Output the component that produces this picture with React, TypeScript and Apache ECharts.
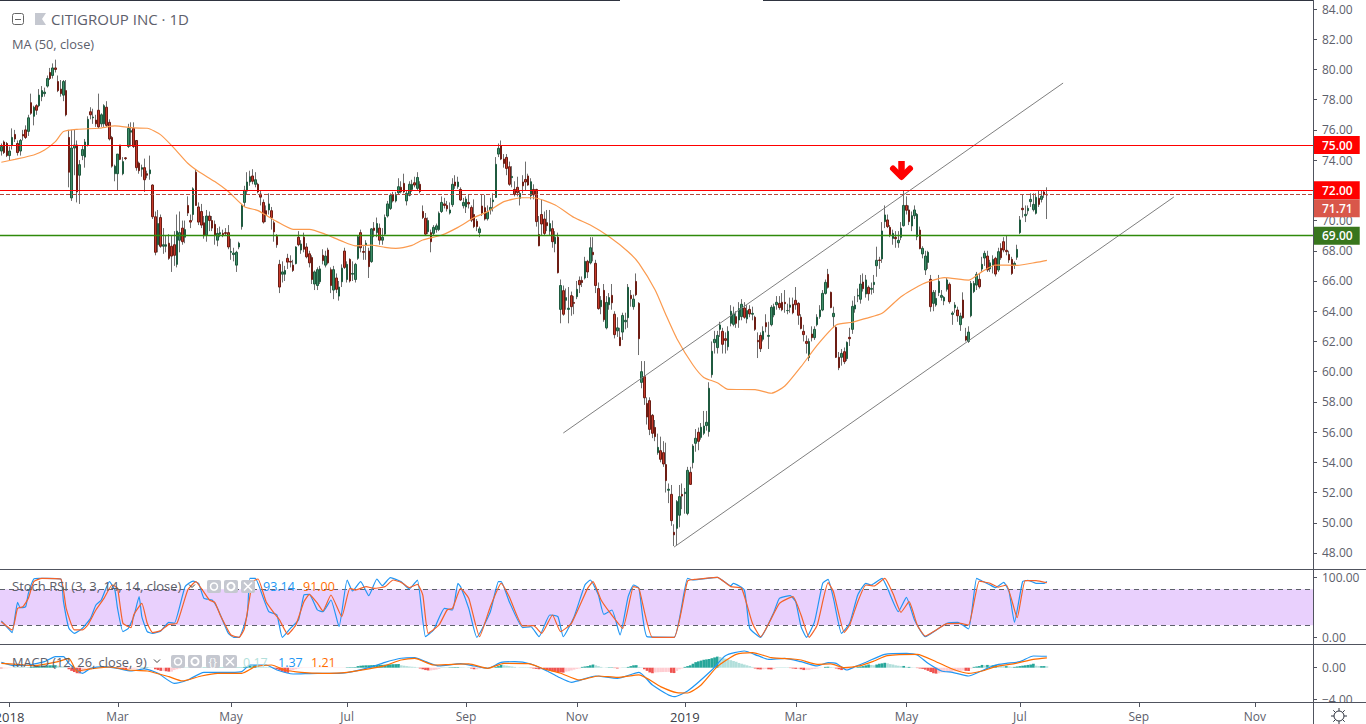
import { useRef, useEffect } from "react";
import * as echarts from "echarts/core";
import { GridComponent, GraphicComponent, MarkLineComponent, MarkAreaComponent } from "echarts/components";
import { CandlestickChart, LineChart, BarChart } from "echarts/charts";
import { SVGRenderer } from "echarts/renderers";

echarts.use([GridComponent, GraphicComponent, MarkLineComponent, MarkAreaComponent, CandlestickChart, LineChart, BarChart, SVGRenderer]);

const FONT = "'Open Sans', sans-serif";
const BAR_SLOTS = 486;

// open, close, low, high
const candles = [
  [74.6,74.9,74.3,75.1],[75.2,74.5,74.4,75.3],[75.1,74.3,74.2,75.2],[74.3,74.6,74.0,74.9],[75.0,75.5,74.7,76.1],
  [75.7,75.4,75.2,76.0],[75.1,74.5,74.3,75.3],[74.6,75.3,74.3,75.4],[75.7,75.6,75.3,76.0],[76.0,75.5,75.4,76.3],
  [75.9,76.8,75.6,77.0],[77.8,77.1,77.0,78.4],[76.9,77.5,76.3,77.6],[77.6,77.3,77.0,77.7],[77.6,78.3,77.5,78.7],
  [78.2,78.6,77.9,78.9],[78.4,78.5,78.2,78.8],[78.9,79.4,78.8,79.6],[79.8,79.4,79.3,80.1],[79.6,80.1,79.4,80.4],
  [80.1,80.0,79.8,80.65],[79.2,78.6,78.5,79.6],[78.7,78.4,78.2,79.3],[78.3,79.2,77.9,79.3],[78.6,77.0,76.9,79.3],
  [75.5,73.2,72.2,76.0],[71.5,74.8,71.3,76.0],[74.8,75.0,73.0,76.0],[75.0,71.9,71.2,75.3],[73.0,73.7,71.1,74.0],
  [74.3,74.7,74.0,75.0],[74.2,75.2,73.5,75.4],[75.0,76.7,74.9,76.9],[77.2,77.0,76.7,77.5],[76.8,76.85,76.4,77.4],
  [76.65,76.4,76.2,77.0],[77.3,76.2,76.1,78.4],[76.4,77.0,76.2,77.1],[76.4,77.6,76.2,77.7],[77.5,76.3,76.2,77.9],
  [76.5,75.4,75.3,76.7],[75.5,73.6,73.5,75.6],[73.1,73.6,72.6,73.7],[73.1,74.4,72.0,74.4],[75.0,74.05,74.0,75.0],
  [73.1,73.9,73.0,74.2],[74.15,74.1,74.0,74.2],[74.9,76.1,74.8,76.4],[75.85,75.95,74.9,76.5],[76.1,74.9,74.8,76.5],
  [75.3,73.5,73.3,75.3],[73.8,73.3,73.1,73.9],[73.4,73.5,72.9,73.7],[73.5,72.7,71.9,74.1],[73.1,73.0,72.8,73.3],
  [73.1,73.35,72.7,74.3],[72.35,70.25,70.1,72.4],[70.25,67.9,67.7,70.6],[68.4,69.8,67.9,70.7],[70.2,68.3,68.2,70.4],
  [68.3,68.4,67.8,69.5],[68.3,68.4,67.9,69.0],[68.5,67.5,67.4,69.1],[68.3,67.65,66.6,69.0],[68.4,67.7,67.0,69.3],
  [67.1,69.3,66.9,70.4],[68.7,69.2,67.9,70.6],[69.5,68.6,68.4,70.0],[68.9,69.4,68.5,70.0],[71.0,70.5,70.3,71.6],
  [70.0,69.9,69.5,70.4],[70.4,72.1,70.0,72.2],[73.2,71.0,71.0,73.4],[70.9,69.9,69.7,71.2],[70.6,69.7,69.5,71.1],
  [69.85,69.0,68.8,70.3],[69.05,70.3,68.6,70.7],[70.3,70.0,69.3,70.6],[70.0,69.5,69.3,70.3],[69.75,69.05,68.4,70.0],
  [68.7,69.15,68.3,69.5],[69.1,69.2,68.9,69.6],[69.15,69.05,68.9,69.4],[69.2,69.15,69.0,69.5],[69.2,68.25,68.1,69.7],
  [67.9,67.95,67.4,68.8],[67.75,67.85,67.3,68.2],[67.05,67.9,66.6,68.0],[68.25,68.5,68.1,68.6],[69.6,71.0,69.4,71.1],
  [71.2,72.0,70.9,72.3],[71.95,72.55,71.7,73.2],[72.55,72.9,72.3,73.3],[72.95,72.6,72.4,73.4],[72.4,72.7,72.2,73.2],
  [72.4,71.9,71.8,72.5],[71.75,71.55,71.0,72.0],[71.2,69.9,69.8,71.4],[70.65,70.4,69.9,71.0],[70.7,71.1,70.4,71.8],
  [70.65,70.2,69.4,70.9],[69.85,69.25,68.6,70.0],[68.95,68.4,68.2,69.1],[67.1,65.6,65.2,67.4],[66.45,66.6,65.9,67.3],
  [66.45,66.7,66.0,67.0],[67.5,67.25,66.8,67.8],[67.3,67.25,66.9,67.7],[67.05,66.7,66.6,67.4],[67.15,68.25,67.1,68.3],
  [68.9,68.4,68.3,69.3],[68.05,68.45,67.8,68.7],[68.9,68.1,67.9,69.2],[68.25,67.6,67.5,68.5],[67.8,67.2,66.9,68.0],
  [67.55,66.1,65.8,67.7],[65.8,66.6,65.4,66.7],[65.7,66.75,65.4,66.9],[65.95,66.8,65.8,67.0],[67.7,67.35,67.1,68.1],
  [67.05,67.65,66.9,68.0],[68.05,67.2,67.1,68.2],[66.75,65.7,65.2,66.9],[65.4,66.75,64.8,67.0],[66.2,65.45,65.2,66.5],
  [65.0,65.6,64.7,66.0],[65.95,66.85,65.6,67.1],[67.98,66.9,66.8,68.2],[66.1,67.1,65.9,67.3],[67.43,66.0,65.9,67.5],
  [66.45,66.5,66.0,67.3],[66.1,67.1,65.9,67.2],[67.5,68.93,67.4,69.0],[69.2,68.2,67.9,69.4],[67.95,67.9,67.4,68.3],
  [68.35,68.5,67.4,68.7],[67.98,66.95,66.2,68.2],[67.28,69.45,67.2,69.5],[69.5,69.35,68.9,69.9],[69.2,69.8,68.9,70.2],
  [69.5,68.7,68.4,69.8],[68.7,68.9,68.4,69.5],[69.1,70.2,69.0,70.4],[70.3,71.1,70.2,71.3],[70.8,71.67,70.7,71.8],
  [71.7,71.3,71.2,71.9],[71.3,71.67,71.2,71.9],[71.84,72.24,71.7,72.8],[72.2,71.9,71.8,72.6],[72.46,71.9,71.8,73.1],
  [71.3,71.8,71.0,72.0],[71.67,72.4,71.6,72.6],[72.06,72.4,71.9,72.7],[72.5,72.35,72.2,72.9],[72.13,72.85,72.0,73.2],
  [72.4,71.93,71.8,72.6],[70.6,70.2,70.1,71.0],[70.15,69.1,69.0,70.5],[69.26,70.0,69.1,70.2],[69.2,68.6,67.9,69.4],
  [69.15,69.55,69.0,69.7],[69.4,69.65,69.2,69.8],[69.4,70.48,69.3,70.6],[70.6,71.2,70.5,71.6],[71.1,71.0,70.8,71.5],
  [71.0,70.78,70.6,71.3],[70.5,70.7,70.4,71.2],[71.05,72.4,70.9,72.8],[72.55,72.3,72.1,73.0],[72.24,72.55,72.1,72.9],
  [72.06,71.36,71.3,72.2],[70.98,71.2,70.8,71.5],[70.9,71.42,70.5,71.6],[71.2,71.1,70.8,71.7],[70.87,70.03,69.9,71.0],
  [70.4,69.6,69.5,71.4],[69.95,69.6,69.3,70.1],[69.2,69.45,68.9,69.6],[70.96,70.5,70.3,71.7],[70.85,70.1,70.0,71.7],
  [70.12,70.57,70.0,71.0],[70.7,70.87,70.4,71.5],[71.25,71.36,70.6,71.8],[71.53,73.72,71.5,74.2],[74.4,74.78,74.2,75.1],
  [74.95,74.07,74.0,75.3],[74.07,73.78,73.5,74.4],[74.18,73.45,73.0,74.4],[73.56,72.4,72.3,73.9],[72.84,72.92,72.2,73.6],
  [72.06,71.73,71.6,72.6],[72.2,71.85,71.6,72.9],[71.47,71.8,71.0,72.0],[72.55,72.3,71.8,73.0],[72.72,72.55,72.0,73.9],
  [72.95,72.35,72.3,73.1],[71.64,72.57,71.4,72.8],[72.06,71.7,71.4,72.4],[72.06,69.93,69.6,72.1],[69.08,68.33,68.3,70.3],
  [70.4,69.77,69.0,71.4],[70.1,69.15,69.0,70.6],[69.86,69.66,69.3,70.7],[69.3,69.8,69.0,70.7],[69.46,68.6,68.2,70.0],
  [68.47,68.9,67.9,69.3],[68.9,66.55,66.5,69.2],[64.12,65.7,63.2,66.1],[65.36,63.8,63.7,65.7],[64.72,64.9,64.1,65.5],
  [64.12,64.2,63.2,65.6],[65.03,64.3,63.7,65.3],[64.58,64.52,63.8,65.0],[64.96,65.45,64.8,66.0],[66.04,65.75,65.2,66.3],
  [66.04,65.9,65.6,66.3],[66.2,67.3,66.1,67.6],[67.3,66.6,66.2,67.4],[67.2,68.2,67.1,68.9],[67.9,67.74,67.3,68.9],
  [67.17,65.7,65.2,67.4],[65.5,64.17,64.1,65.9],[64.3,64.72,63.8,65.0],[65.38,63.44,63.3,65.8],[62.9,64.58,62.8,65.0],
  [64.43,64.9,64.1,65.2],[65.05,64.56,64.1,65.8],[63.8,62.45,62.2,64.0],[62.7,62.9,62.3,63.6],[62.27,61.72,61.7,62.9],
  [62.62,63.72,62.1,63.9],[63.3,63.4,62.8,63.9],[63.57,65.58,62.9,65.8],[65.05,64.83,64.3,65.4],[64.3,64.8,64.1,65.1],
  [65.97,65.09,65.0,66.5],[64.52,62.18,61.1,64.6],[59.29,60.0,58.9,60.7],[59.67,58.27,57.8,60.7],[57.9,57.0,56.5,58.3],
  [58.08,56.18,55.8,58.3],[57.11,55.92,55.6,57.2],[56.31,55.7,55.4,56.8],[54.64,54.99,54.5,55.9],[54.77,54.2,54.0,55.7],
  [54.64,53.89,53.7,55.4],[53.85,52.79,52.0,55.3],[52.15,52.22,51.3,52.6],[51.88,50.14,49.8,52.5],[49.37,49.2,48.46,49.9],
  [49.63,51.4,48.5,51.5],[50.5,51.73,49.7,52.5],[51.88,51.77,50.9,52.6],[51.93,52.02,50.6,52.3],[50.62,53.47,50.5,53.7],
  [53.34,52.54,52.5,53.7],[53.98,55.08,53.6,55.2],[55.26,55.59,54.7,56.2],[55.99,55.39,54.8,56.3],[55.65,56.32,55.5,56.6],
  [55.92,56.4,55.8,57.4],[56.43,56.65,56.1,57.4],[56.03,58.9,55.7,59.3],[59.8,61.35,59.6,62.0],[61.92,62.14,61.2,62.7],
  [61.59,62.4,61.2,62.7],[62.8,63.09,62.3,63.3],[62.67,61.81,61.2,62.9],[62.18,62.07,61.2,62.6],[61.65,62.67,61.4,63.0],
  [63.2,64.0,63.0,64.4],[63.13,63.82,63.0,64.3],[63.64,63.2,62.9,64.0],[63.42,64.17,62.9,64.6],[63.64,64.46,63.4,64.8],
  [64.21,63.6,63.5,64.6],[63.49,64.04,63.2,64.4],[64.12,63.82,63.6,64.4],[63.8,63.86,63.4,64.3],[63.6,62.8,62.7,63.7],
  [62.07,61.98,60.9,62.6],[62.4,61.52,61.3,62.6],[62.14,62.67,62.0,63.0],[63.24,62.98,62.6,63.8],[62.34,62.4,61.5,63.3],
  [63.11,64.26,63.0,64.4],[63.75,64.3,63.6,64.5],[64.43,64.59,64.1,65.0],[64.52,64.24,64.1,65.0],[64.59,64.1,64.0,65.2],
  [64.59,64.5,63.9,65.4],[64.04,64.05,63.8,64.5],[64.26,64.41,63.9,64.9],[64.46,63.9,63.8,64.9],[64.72,64.43,64.1,65.6],
  [64.52,63.73,63.1,64.6],[63.6,62.85,62.8,63.8],[62.67,62.45,62.0,63.1],[62.0,61.87,61.2,62.4],[60.93,62.0,60.7,62.2],
  [62.49,62.25,62.0,63.0],[62.25,62.8,62.1,63.0],[63.11,63.6,63.0,63.8],[63.64,64.08,63.5,64.4],[64.08,65.18,64.0,65.4],
  [65.18,65.91,65.1,66.1],[66.44,65.58,65.5,66.8],[65.25,64.24,64.2,65.3],[63.64,63.86,62.9,64.3],[62.93,60.95,60.9,63.0],
  [60.95,60.26,60.1,61.3],[60.95,61.21,60.4,61.5],[61.32,60.66,60.5,61.6],[60.86,61.94,60.7,62.0],[62.27,62.18,61.7,62.9],
  [62.8,64.32,62.5,64.7],[64.15,64.41,63.9,65.0],[65.0,65.05,64.6,65.5],[64.79,65.8,64.5,66.4],[65.93,65.49,65.3,66.5],
  [65.14,66.07,64.9,66.4],[65.58,65.16,64.7,65.7],[65.45,65.51,65.1,65.9],[65.76,65.91,65.2,66.4],[67.01,67.37,66.28,68.27],
  [67.39,67.36,66.8,67.6],[67.46,69.31,67.2,69.9],[69.93,70.37,69.5,71.0],[70.04,69.6,69.5,70.4],[69.55,69.06,68.9,69.7],
  [68.82,69.15,68.4,69.4],[68.89,68.8,68.2,69.3],[68.53,68.69,68.2,69.3],[68.89,69.5,68.7,69.9],[69.66,71.0,69.6,72.0],
  [71.0,70.68,70.4,71.6],[70.7,69.93,69.7,71.0],[69.64,70.32,69.3,70.6],[70.32,70.7,70.1,71.0],[68.93,70.41,68.7,70.5],
  [69.37,68.14,68.1,69.6],[67.79,68.16,67.5,68.3],[66.73,67.65,66.4,68.0],[67.23,67.9,66.8,68.0],[66.11,64.3,63.97,66.4],
  [64.52,65.25,64.0,65.4],[64.41,64.85,64.3,65.4],[65.23,65.98,65.0,66.4],[64.92,65.05,64.7,65.4],[64.68,64.92,64.4,65.0],
  [65.45,66.07,65.3,66.2],[65.78,64.63,64.5,65.9],[63.79,63.88,63.1,64.0],[64.23,64.41,63.9,64.6],[64.08,63.7,63.3,64.3],
  [63.11,63.68,62.7,63.9],[64.74,63.57,63.5,65.25],[62.34,62.09,62.0,62.9],[62.0,62.62,61.9,63.0],[63.7,65.84,63.6,66.0],
  [65.3,65.84,65.2,66.0],[65.73,66.44,65.4,66.6],[66.11,65.62,65.5,66.5],[66.79,67.1,66.6,67.6],[67.52,67.83,67.0,68.0],
  [67.65,66.73,66.6,68.0],[66.8,67.2,66.6,67.4],[67.06,67.43,66.5,67.7],[67.5,66.46,66.3,67.6],[66.73,67.94,66.6,68.2],
  [68.16,67.54,67.4,68.5],[68.6,68.05,67.9,68.9],[68.03,67.94,67.7,69.0],[67.76,67.39,67.2,68.0],[67.43,66.5,66.4,67.6],
  [67.03,67.17,66.8,67.3],[67.57,68.09,67.4,68.4],[69.2,70.04,69.1,70.3],[70.81,70.72,70.2,71.7],[70.32,70.41,69.9,71.0],
  [70.65,70.81,70.4,71.0],[71.25,71.4,70.9,71.8],[70.72,71.07,70.6,71.8],[70.48,71.54,70.4,71.8],[71.47,71.07,70.9,72.0],
  [71.4,71.62,71.2,72.0],[71.89,71.71,71.5,72.0],[71.73,71.69,70.1,72.2],
];

// [bar, value] points
const ma50 = [[0,73.86],[5,74.05],[12,74.34],[16,74.67],[20,75.22],[23,75.89],[28,76.04],[36,76.11],[42,76.26],[49,76.13],[54,76.11],[59,75.67],[64,74.78],[69,73.79],[73,73.24],[79,72.58],[84,71.92],[90,70.92],[95,70.66],[102,69.93],[108,69.42],[114,69.42],[120,69.09],[126,68.64],[131,68.33],[137,68.38],[142,68.22],[146,68.16],[152,68.36],[156,68.71],[163,69.04],[169,69.55],[175,70.2],[180,70.59],[186,71.25],[193,71.51],[197,71.51],[205,71.03],[212,70.2],[218,69.7],[225,68.93],[232,67.94],[236,67.17],[242,65.4],[246,63.75],[250,62.2],[256,60.44],[260,59.62],[265,59.27],[269,58.83],[279,58.81],[285,58.57],[290,59.05],[296,60.33],[302,61.76],[309,63.09],[315,63.27],[320,63.53],[326,63.86],[333,64.96],[341,65.8],[349,66.22],[358,66.06],[363,66.62],[368,67.06],[376,67.04],[383,67.23],[387,67.37]];
const channelUpper = [[208,55.94],[393,79.1]];
const channelLower = [[249,48.39],[434,71.56]];

const stochK = [[0,27.2],[3,12.2],[4,7.7],[6,58.3],[7,49.4],[9,51.1],[10,73.3],[12,97.2],[14,98.3],[17,98.3],[22,97.2],[23,59.4],[25,15],[27,6.6],[30,15],[33,31.6],[35,53.8],[37,62.2],[40,92.7],[42,78.8],[43,48.3],[45,9.4],[47,15],[49,34.4],[51,67.7],[52,34.4],[54,9.4],[56,6.6],[59,10.5],[62,24.9],[64,23.3],[68,84.4],[71,93.8],[73,89.9],[75,65],[78,62.2],[80,48.3],[84,6.6],[86,0],[88,0],[91,37.2],[92,98.3],[94,98.3],[97,65],[99,42.7],[102,37.2],[104,0],[107,15],[110,28.8],[112,70.5],[114,71.6],[117,45.5],[119,42.7],[122,62.2],[125,17.7],[128,95.5],[130,77.2],[133,92.7],[136,69.4],[139,97.2],[141,86],[144,99.4],[148,92.7],[151,80.5],[154,95.5],[157,1],[160,12.2],[164,48.3],[167,45.5],[169,90],[170,84.4],[173,48.3],[176,0],[181,42.7],[184,92.7],[185,92.7],[188,59.4],[193,16],[196,17.7],[199,1],[203,37.2],[206,34.4],[208,1],[212,34.4],[216,87.2],[218,95.5],[221,70.5],[223,38.3],[226,45.5],[229,3.8],[232,67.7],[234,87.2],[236,81.6],[239,1],[249,0],[254,98.3],[256,95.5],[265,100],[270,86],[271,90],[275,78.8],[277,15],[281,0],[286,42.7],[288,65],[292,69.4],[294,59.4],[296,17.7],[298,0],[301,26],[304,90],[306,96.6],[308,65],[311,6.6],[314,23.3],[317,70.5],[320,90],[322,87.2],[326,98.3],[328,81.6],[332,42.7],[335,66.6],[338,28.8],[342,1],[347,15],[350,23.3],[354,24.9],[358,13.8],[361,98.3],[363,93.8],[366,87.2],[368,82.7],[371,91.6],[373,76],[375,24.9],[378,92.7],[380,95],[383,90],[386,90],[387,93.14]];
const stochD = [[0,26],[4,12.2],[6,48.3],[8,51.1],[10,65],[12,92.7],[15,98.3],[22,97.2],[24,48.3],[27,12.2],[30,12.2],[32,20.5],[35,45.5],[38,65],[41,87.2],[43,81.6],[45,23.3],[48,16],[49,37.2],[52,56.6],[54,23.3],[56,7.7],[59,11.1],[62,21.6],[65,23.3],[69,78.8],[72,92.7],[74,81.6],[77,62.2],[79,58.3],[81,37.2],[85,3.8],[88,0],[90,15],[93,92.7],[95,97.2],[98,59.4],[101,40],[103,28.8],[106,5],[109,20.5],[112,59.4],[114,71.6],[117,56.6],[119,43.8],[122,70.5],[126,34.4],[129,81.6],[131,78.8],[135,84.4],[138,81.6],[142,84.4],[145,95.5],[148,91.6],[151,82.7],[154,88.3],[156,70.5],[158,6.6],[162,20.5],[165,45.5],[167,48.3],[170,81.6],[173,65],[177,1],[181,51],[185,90],[188,67.7],[193,18.8],[197,19.4],[200,6.6],[204,37.2],[207,9.4],[211,23.3],[217,81.6],[219,92.7],[222,62.2],[225,42.7],[230,15],[234,84.4],[236,81.6],[241,0],[249,0],[254,93.8],[257,96.6],[265,100],[270,84.4],[274,81.6],[278,23.3],[281,1],[288,56.6],[293,67.7],[296,37.2],[299,0],[302,20.5],[306,91],[308,76],[312,8.3],[314,20.5],[317,59.4],[320,87.2],[323,85.5],[327,98.3],[330,73.3],[333,41.6],[336,59.4],[339,20.5],[342,2],[346,12.2],[350,22.7],[355,23.3],[358,20.5],[362,93.8],[366,90],[369,83.8],[372,87.2],[376,32.7],[379,94.4],[383,94.4],[387,91]];

const macdLine = [[0,.68],[5,.26],[10,.34],[16,.76],[20,1.4],[23,1.4],[25,.55],[30,-.71],[33,-.08],[38,.13],[43,-.08],[48,-.42],[53,-.16],[58,-.71],[64,-1.98],[69,-1.56],[75,-.59],[85,-.59],[89,-.5],[92,.34],[98,.34],[102,-.29],[108,-.8],[117,-.71],[125,-.71],[130,-.5],[136,0],[142,.68],[148,1.19],[153,1.27],[157,.76],[162,.22],[170,.51],[175,.22],[180,-.08],[185,.68],[190,.76],[196,.47],[202,-.42],[206,-1.14],[211,-1.85],[220,-1.05],[228,-1.35],[236,-.59],[241,-2.19],[249,-3.67],[254,-2.95],[263,-.29],[268,1.52],[275,2.11],[280,1.52],[284,1.06],[290,1.19],[296,.76],[302,.22],[306,.64],[309,.55],[313,-.29],[316,.13],[320,.68],[327,1.69],[335,1.82],[339,1.61],[343,.55],[348,-.42],[352,-.59],[358,-1.05],[363,-.38],[368,.34],[372,.55],[377,.76],[382,1.48],[387,1.45]];
const macdSignal = [[0,.55],[6,.43],[12,.26],[21,.76],[25,1.19],[28,-.42],[33,-.16],[40,.09],[47,-.29],[54,-.42],[62,-1.14],[67,-1.68],[74,-1.05],[80,-.71],[89,-.71],[94,.13],[100,.34],[105,-.29],[111,-.59],[119,-.71],[128,-.59],[136,-.16],[142,.26],[148,.97],[153,1.19],[160,.34],[167,.43],[173,.47],[180,-.08],[186,.55],[195,.51],[201,-.16],[207,-.71],[214,-1.56],[221,-1.05],[228,-1.22],[236,-.92],[244,-2.4],[250,-3.16],[254,-3.2],[259,-2.19],[265,.13],[272,1.69],[278,1.9],[285,1.27],[293,1.1],[296,.97],[302,.43],[307,.47],[312,0],[318,.26],[323,.84],[328,1.52],[339,1.69],[346,.76],[352,-.16],[358,-.71],[363,-.42],[368,.13],[375,.51],[382,1.06],[387,1.25]];
const macdHist = [
  -.08,-.08,-.06,-.05,-.03,.02,.02,.02,.02,.02,.02,.1,.15,.2,.25,.25,.28,.28,.3,.3,.32,.25,.2,.15,.1,
  -.2,-.4,-.55,-.7,-.72,-.5,-.4,-.3,-.2,-.1,-.05,.02,.02,.02,.02,.02,.02,.02,-.1,-.15,-.2,-.25,-.25,-.15,-.12,
  -.1,-.05,.03,.04,.05,.04,.03,-.2,-.3,-.4,-.4,-.45,-.5,-.5,-.3,-.2,-.1,.02,.02,.02,.02,.02,.02,.02,.02,
  .04,.04,.04,.04,.04,.04,.04,.04,.04,.04,.04,.04,.04,.04,.04,.1,.2,.25,.28,.3,.2,.15,.12,.1,.08,
  .05,-.1,-.2,-.35,-.5,-.6,-.65,-.4,-.3,-.2,-.1,-.05,-.03,-.03,-.03,-.03,-.03,-.03,-.03,-.03,-.03,-.03,-.03,-.03,-.03,
  -.03,-.03,-.03,.05,.06,.06,.07,.2,.25,.28,.3,.3,.32,.34,.35,.35,.36,.38,.4,.42,.44,.45,.46,.3,.25,
  .2,.15,.12,.1,.05,-.1,-.2,-.3,-.35,-.35,-.3,-.25,-.15,.02,.02,.02,.05,.06,.07,.07,.06,.05,.02,.02,-.1,
  -.2,-.2,-.1,-.05,.02,.02,.02,.02,.1,.2,.35,.3,.25,.2,.15,.1,.02,.02,.02,.02,.02,-.05,-.1,-.15,-.2,
  -.2,-.25,-.3,-.35,-.45,-.5,-.55,-.6,-.62,-.5,-.45,-.35,-.25,-.15,-.1,.1,.15,.2,.3,.4,.3,.2,.1,.02,.02,
  .05,.05,-.05,-.1,-.05,.02,.02,.1,.2,.3,.32,.1,.05,-.2,-.4,-.6,-.7,-.6,-.58,-.56,-.55,-.54,-.53,-.65,-.68,
  -.4,-.2,-.1,.1,.2,.3,.5,.7,.8,.9,1.0,1.05,1.1,1.2,1.3,1.4,1.35,1.25,1.15,1.05,.95,.85,.75,.6,.5,
  .4,.3,.2,.1,-.1,-.2,-.22,-.2,-.15,-.2,-.22,-.15,.02,.02,.02,.02,.02,-.05,-.1,-.15,-.15,-.2,-.3,-.3,-.3,
  -.2,-.15,-.1,-.05,-.02,.1,.12,.08,.05,-.1,-.2,-.3,-.25,-.2,-.15,-.1,-.05,.1,.15,.2,.3,.4,.35,.3,.4,
  .5,.55,.62,.55,.45,.4,.3,.25,.2,.22,.1,.1,.05,.03,-.05,-.1,-.15,-.25,-.4,-.55,-.7,-.75,-.7,-.6,-.6,
  -.55,-.55,-.5,-.45,-.4,-.4,-.35,-.4,-.42,-.1,.1,.15,.2,.35,.3,.35,.3,.3,.35,.3,.25,.2,.2,.15,.1,
  .1,.15,.2,.25,.3,.35,.4,.5,.25,.2,.2,.2,.17,
];

const priceTicks = [48,50,52,54,56,58,60,62,64,66,68,70,72,74,76,78,80,82,84];
const stochTicks = [0,100];
const macdTicks = [-4,0];
const timeTickBars = [3,43,85,128,172,213,253,294,335,377,421,464];
const timeTickLabels = ["2018","Mar","May","Jul","Sep","Nov","2019","Mar","May","Jul","Sep","Nov"];

const levels = [
  { value: 75, line: "#ff0000", tag: "#ff0000", type: "solid", tagShift: 0, width: 1 },
  { value: 72, line: "#ff0000", tag: "#ff0000", type: "solid", tagShift: 0, width: 1 },
  { value: 71.71, line: "#b5483a", tag: "#d9574a", type: "dashed", tagShift: 13.5, width: 1 },
  { value: 69, line: "#2f8a0a", tag: "#38761d", type: "solid", tagShift: 0, width: 1.3 },
];

echarts.graphic.registerShape(
  "gearIcon",
  echarts.graphic.extendPath("M0 -5A5 5 0 1 1 0 5A5 5 0 1 1 0 -5M0 -8L0 -5M0 8L0 5M-8 0L-5 0M8 0L5 0M-5.7 -5.7L-3.5 -3.5M5.7 -5.7L3.5 -3.5M-5.7 5.7L-3.5 3.5M5.7 5.7L3.5 3.5", {})
);

const text = (x: number, y: number, t: string, fill: string, fontSize = 13) => ({
  type: "text", x, y, z: 50, silent: true,
  style: { text: t, fill, font: `${fontSize}px ${FONT}`, textVerticalAlign: "middle" },
});
const rule = (x1: number, y1: number, x2: number, y2: number, stroke = "#50535e", lineWidth = 1) => ({
  type: "line", z: 40, silent: true, shape: { x1, y1, x2, y2 }, style: { stroke, lineWidth },
});
const chevron = (x: number, y: number) => ({
  type: "polyline", z: 50, silent: true,
  shape: { points: [[x - 3, y - 1.5], [x, y + 1.5], [x + 3, y - 1.5]] },
  style: { stroke: "#444", fill: "none", lineWidth: 1 },
});
const button = (x: number, y: number, kind: string) => {
  const cx = x + 7;
  const cy = y + 6.5;
  const icon: any[] = [];
  if (kind === "eye") {
    icon.push({ type: "circle", z: 52, shape: { cx, cy, r: 3.5 }, style: { fill: "none", stroke: "#fff", lineWidth: 1.5 } });
  } else if (kind === "gear") {
    icon.push({ type: "circle", z: 52, shape: { cx, cy, r: 3.6 }, style: { fill: "none", stroke: "#fff", lineWidth: 2 } });
  } else if (kind === "x") {
    icon.push(rule(cx - 4, cy - 4, cx + 4, cy + 4, "#fff", 1.6), rule(cx - 4, cy + 4, cx + 4, cy - 4, "#fff", 1.6));
    icon.forEach((e) => (e.z = 52));
  } else {
    icon.push({ ...text(cx - 4.5, cy, "{}", "#fff", 11), z: 52 });
  }
  return [
    { type: "rect", z: 51, silent: true, shape: { x, y, width: 14, height: 13, r: 2 }, style: { fill: "#c5c8d0" } },
    ...icon,
  ];
};

const chrome = [
  // panes and frame
  rule(0, 0.5, 620, 0.5, "#2f3440"),
  rule(763, 0.5, 1313, 0.5, "#2f3440"),
  rule(1313.5, 0, 1313.5, 724),
  rule(0, 569.5, 1366, 569.5),
  rule(0, 644.5, 1366, 644.5),
  { type: "rect", z: 39, silent: true, shape: { x: 1314, y: 702, width: 52, height: 22 }, style: { fill: "#fff" } },
  rule(0, 702.5, 1366, 702.5),
  { type: "gearIcon", z: 50, x: 1339, y: 716, silent: true, style: { stroke: "#2f3440", fill: "none", lineWidth: 1 } },
  // header
  { type: "rect", z: 50, silent: true, shape: { x: 12.5, y: 13.5, width: 11, height: 11, r: 2 }, style: { fill: "none", stroke: "#666", lineWidth: 1 } },
  rule(15, 19.5, 21, 19.5, "#666"),
  { type: "polygon", z: 50, silent: true, shape: { points: [[35, 13], [46, 13], [42, 19], [46, 25], [35, 25]] }, style: { fill: "#c5c8d0" } },
  text(51, 19, "CITIGROUP INC · 1D", "#5d606b", 15),
  text(12, 44, "MA (50, close)", "#5d606b", 12.8),
  // stoch legend
  text(12, 586, "Stoch RSI (3, 3, 14, 14, close)", "#5d606b", 13),
  chevron(192, 586),
  ...button(207, 580, "eye"),
  ...button(224, 580, "gear"),
  ...button(241, 580, "x"),
  text(263, 586, "93.14", "#2196f3", 12.5),
  text(303, 586, "91.00", "#ff6d00", 12.5),
  // macd legend
  text(12, 662, "MACD (12, 26, close, 9)", "#5d606b", 12.8),
  chevron(157, 661),
  ...button(171, 655, "eye"),
  ...button(188, 655, "gear"),
  ...button(206, 655, "braces"),
  ...button(223, 655, "x"),
  text(243, 662, "0.17", "#b2dfdb", 12.5),
  text(278, 662, "1.37", "#2196f3", 12.5),
  text(311, 662, "1.21", "#ff6d00", 12.5),
  // red arrow over the channel touch
  rule(901.5, 161, 901.5, 177, "#ff0000", 6.5),
  {
    type: "polyline", z: 50, silent: true,
    shape: { points: [[893, 168.5], [901.5, 177], [910, 168.5]] },
    style: { stroke: "#ff0000", fill: "none", lineWidth: 6, lineCap: "round", lineJoin: "round" },
  },
];

const histColor = (v: number, i: number) => {
  const prev = i > 0 ? macdHist[i - 1] : 0;
  if (v >= 0) return v >= prev ? "#26a69a" : "#b2dfdb";
  return v < prev ? "#ef5350" : "#ffcdd2";
};

const categories = Array.from({ length: BAR_SLOTS }, (_, i) => String(i));

const priceAxisLabel = { color: "#5d606b", fontFamily: FONT, fontSize: 12, margin: 9 };
const sideAxis = (gridIndex: number, min: number, max: number, ticks: number[]) => ({
  type: "value", gridIndex, position: "right", min, max, scale: true,
  splitLine: { show: false },
  axisLine: { show: false, onZero: false },
  axisTick: { show: true, length: 4, lineStyle: { color: "#50535e" }, customValues: ticks },
  axisLabel: {
    ...priceAxisLabel,
    customValues: ticks,
    formatter: (v: number) => v.toFixed(2).replace("-", "\u2212"),
  },
});

// band centres of the bar slots, so the time labels sit on the same scale as the candles
const timeTickCentres = timeTickBars.map((b) => b + 0.5);

const option = {
  animation: false,
  backgroundColor: "#ffffff",
  graphic: { elements: chrome },
  // outerBoundsMode none: the clipped "2018" label must not squeeze the pane
  grid: [
    { left: 0, top: 1, width: 1313, height: 568, outerBoundsMode: "none" },
    { left: 0, top: 570, width: 1313, height: 74, outerBoundsMode: "none" },
    { left: 0, top: 645, width: 1313, height: 57, outerBoundsMode: "none" },
  ],
  xAxis: [
    { type: "category", gridIndex: 0, data: categories, show: false },
    { type: "category", gridIndex: 1, data: categories, show: false },
    { type: "category", gridIndex: 2, data: categories, show: false },
    {
      type: "value", gridIndex: 2, position: "bottom", min: 0, max: BAR_SLOTS,
      splitLine: { show: false },
      axisLine: { show: false, onZero: false },
      axisTick: { show: false },
      axisLabel: {
        color: "#5d606b", fontFamily: FONT, fontSize: 12, margin: 8,
        customValues: timeTickCentres,
        formatter: (v: number) => {
          const t = timeTickLabels[timeTickCentres.indexOf(v)] ?? "";
          return /^\d/.test(t) ? `{y|${t}}` : t;
        },
        rich: { y: { fontSize: 13, color: "#3d4048", fontFamily: FONT } },
      },
    },
  ],
  yAxis: [
    sideAxis(0, 46.94, 84.53, priceTicks),
    sideAxis(1, -11.2, 112.2, stochTicks),
    sideAxis(2, -4.34, 2.87, macdTicks),
  ],
  series: [
    {
      // wicks only, in grey, under the bodies
      type: "candlestick", xAxisIndex: 0, yAxisIndex: 0, barWidth: 1, z: 3, silent: true,
      data: candles,
      itemStyle: { color: "#6e6e6e", color0: "#6e6e6e", borderColor: "#6e6e6e", borderColor0: "#6e6e6e", borderWidth: 1 },
    },
    {
      type: "candlestick", xAxisIndex: 0, yAxisIndex: 0, barWidth: 2, z: 4, silent: true,
      data: candles.map(([o, c]) => [o, c, Math.min(o, c), Math.max(o, c)]),
      itemStyle: { color: "#3e8e68", color0: "#c63a2b", borderColor: "#1f5a3f", borderColor0: "#6d1d14", borderWidth: 1 },
      markLine: {
        silent: true, symbol: "none", animation: false, z: 8,
        data: levels.map((l) => ({
          yAxis: l.value,
          lineStyle: { color: l.line, width: l.width, type: l.type },
          label: {
            show: true, position: "end", distance: 0,
            offset: [0, l.tagShift],
            formatter: l.value.toFixed(2),
            color: "#ffffff", fontFamily: FONT, fontSize: 12, fontWeight: 600,
            backgroundColor: l.tag, padding: [3, 7, 3, 9],
          },
        })),
      },
    },
    {
      type: "line", xAxisIndex: 0, yAxisIndex: 0, data: ma50, showSymbol: false, smooth: 0.2, z: 5, silent: true,
      lineStyle: { color: "#fb9a4e", width: 1.2 },
    },
    {
      type: "line", xAxisIndex: 0, yAxisIndex: 0, data: channelUpper, showSymbol: false, z: 6, silent: true,
      lineStyle: { color: "#7f7f7f", width: 1 },
    },
    {
      type: "line", xAxisIndex: 0, yAxisIndex: 0, data: channelLower, showSymbol: false, z: 6, silent: true,
      lineStyle: { color: "#7f7f7f", width: 1 },
    },
    {
      type: "line", xAxisIndex: 1, yAxisIndex: 1, data: stochK, showSymbol: false, smooth: 0.15, z: 5, silent: true,
      lineStyle: { color: "#2196f3", width: 1.2 },
      markArea: {
        silent: true,
        itemStyle: { color: "#e9d0fd" },
        data: [[{ yAxis: 20 }, { yAxis: 80 }]],
      },
      markLine: {
        silent: true, symbol: "none", animation: false,
        lineStyle: { color: "#5d606b", type: [5, 4], width: 1 },
        label: { show: false },
        data: [{ yAxis: 80 }, { yAxis: 20 }],
      },
    },
    {
      type: "line", xAxisIndex: 1, yAxisIndex: 1, data: stochD, showSymbol: false, smooth: 0.15, z: 6, silent: true,
      lineStyle: { color: "#f4622a", width: 1.2 },
    },
    {
      type: "bar", xAxisIndex: 2, yAxisIndex: 2, barCategoryGap: 0, silent: true, z: 2,
      data: macdHist.map((v, i) => ({ value: v, itemStyle: { color: histColor(v, i) } })),
    },
    {
      type: "line", xAxisIndex: 2, yAxisIndex: 2, data: macdLine, showSymbol: false, smooth: 0.2, z: 5, silent: true,
      lineStyle: { color: "#2196f3", width: 1.2 },
    },
    {
      type: "line", xAxisIndex: 2, yAxisIndex: 2, data: macdSignal, showSymbol: false, smooth: 0.2, z: 6, silent: true,
      lineStyle: { color: "#ff6d00", width: 1.2 },
    },
  ],
};

const App = () => {
  const chartRef = useRef<HTMLDivElement>(null);

  useEffect(() => {
    const chart = echarts.init(chartRef.current, null, { renderer: "svg" });
    chart.setOption(option as any);
    // time ticks go through the chart's own scale
    const timeTicks = timeTickBars.map((bar) => {
      const x = Math.round(chart.convertToPixel({ xAxisIndex: 2 }, bar) as number) + 0.5;
      return rule(x, 702, x, 707, "#50535e");
    });
    chart.setOption({ graphic: { elements: [...chrome, ...timeTicks] } } as any);
    return () => {
      chart.dispose();
    };
  }, []);

  return <div ref={chartRef} style={{ position: "fixed", left: 0, top: 0, width: "1366px", height: "724px" }}></div>;
};

export default App;
